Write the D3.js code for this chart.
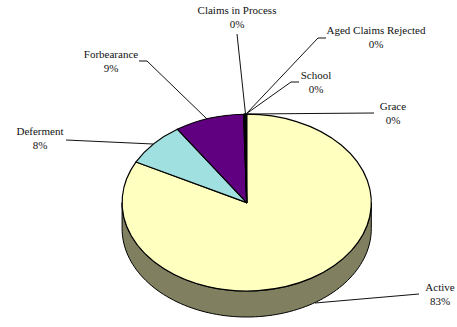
<!DOCTYPE html>
<html>
<head>
<meta charset="utf-8">
<script src="https://cdn.jsdelivr.net/npm/d3@7"></script>
<style>
  html, body { margin: 0; padding: 0; background: #fff; }
  svg { display: block; }
  text { font-family: "Liberation Serif", serif; font-size: 11px; fill: #111; }
</style>
</head>
<body>
<div id="chart"></div>
<script>
// Portfolio status shares, clockwise from twelve o'clock
const categories = ["Active", "Deferment", "Forbearance", "Claims in Process", "Aged Claims Rejected", "School", "Grace"];
const shares = [82.6, 8.0, 9.0, 0.1, 0.1, 0.1, 0.1];
const sliceColors = ["#FFFFC0", "#A0E0E0", "#600080", "#000080", "#FF00FF", "#FFFF00", "#00FFFF"];

// Callout layout: text centre, first baseline, elbow points from the text to the rim
const callouts = [
  { x: 440, y: 291, line: [[419, 294], [315, 303]] },
  { x: 40,  y: 135, line: [[66, 140], [153, 144]] },
  { x: 111, y: 58,  line: [[139, 61], [147, 61], [207, 119]] },
  { x: 237, y: 14,  line: [[237, 34], [245.5, 114]] },
  { x: 376, y: 34,  line: [[326, 38], [318, 38], [246, 114]] },
  { x: 316, y: 79,  line: [[299, 82], [291, 82], [246, 114]] },
  { x: 393, y: 110, line: [[374, 113], [247, 114]] }
];

const width = 457, height = 327;
const cx = 246.7, cy = 202.6, rx = 124.6, ry = 88.4, depth = 26;

const svg = d3.select("#chart").append("svg")
  .attr("width", width).attr("height", height);

// Extruded rim below the front half of the disc
const rimAngles = d3.range(0, 181, 2).map(d => d * Math.PI / 180);
const rimPoints = [
  ...rimAngles.map(a => [cx + rx * Math.cos(a), cy + depth + ry * Math.sin(a)]),
  ...rimAngles.slice().reverse().map(a => [cx + rx * Math.cos(a), cy + ry * Math.sin(a)])
];
svg.append("path")
  .attr("d", d3.line()(rimPoints) + "Z")
  .attr("fill", "#808060")
  .attr("stroke", "#000")
  .attr("stroke-width", 1);

// Top face: a circular pie flattened into an ellipse
const pie = d3.pie().sort(null).value(d => d)(shares);
const arc = d3.arc().innerRadius(0).outerRadius(rx);

svg.append("g")
  .attr("transform", `translate(${cx},${cy}) scale(1,${ry / rx})`)
  .selectAll("path")
  .data(pie)
  .join("path")
  .attr("d", arc)
  .attr("fill", (d, i) => sliceColors[i])
  .attr("stroke", "#000")
  .attr("stroke-width", 1.2)
  .attr("stroke-linejoin", "round")
  .attr("vector-effect", "non-scaling-stroke");

// Leader lines
svg.append("g")
  .selectAll("path")
  .data(callouts)
  .join("path")
  .attr("d", d => d3.line()(d.line))
  .attr("fill", "none")
  .attr("stroke", "#111")
  .attr("stroke-width", 1);

// Two-line labels: name above percentage
const labels = svg.append("g")
  .selectAll("text")
  .data(categories)
  .join("text")
  .attr("text-anchor", "middle");
labels.append("tspan")
  .attr("x", (d, i) => callouts[i].x)
  .attr("y", (d, i) => callouts[i].y)
  .text(d => d);
labels.append("tspan")
  .attr("x", (d, i) => callouts[i].x)
  .attr("y", (d, i) => callouts[i].y + 14)
  .text((d, i) => Math.round(shares[i]) + "%");
</script>
</body>
</html>
